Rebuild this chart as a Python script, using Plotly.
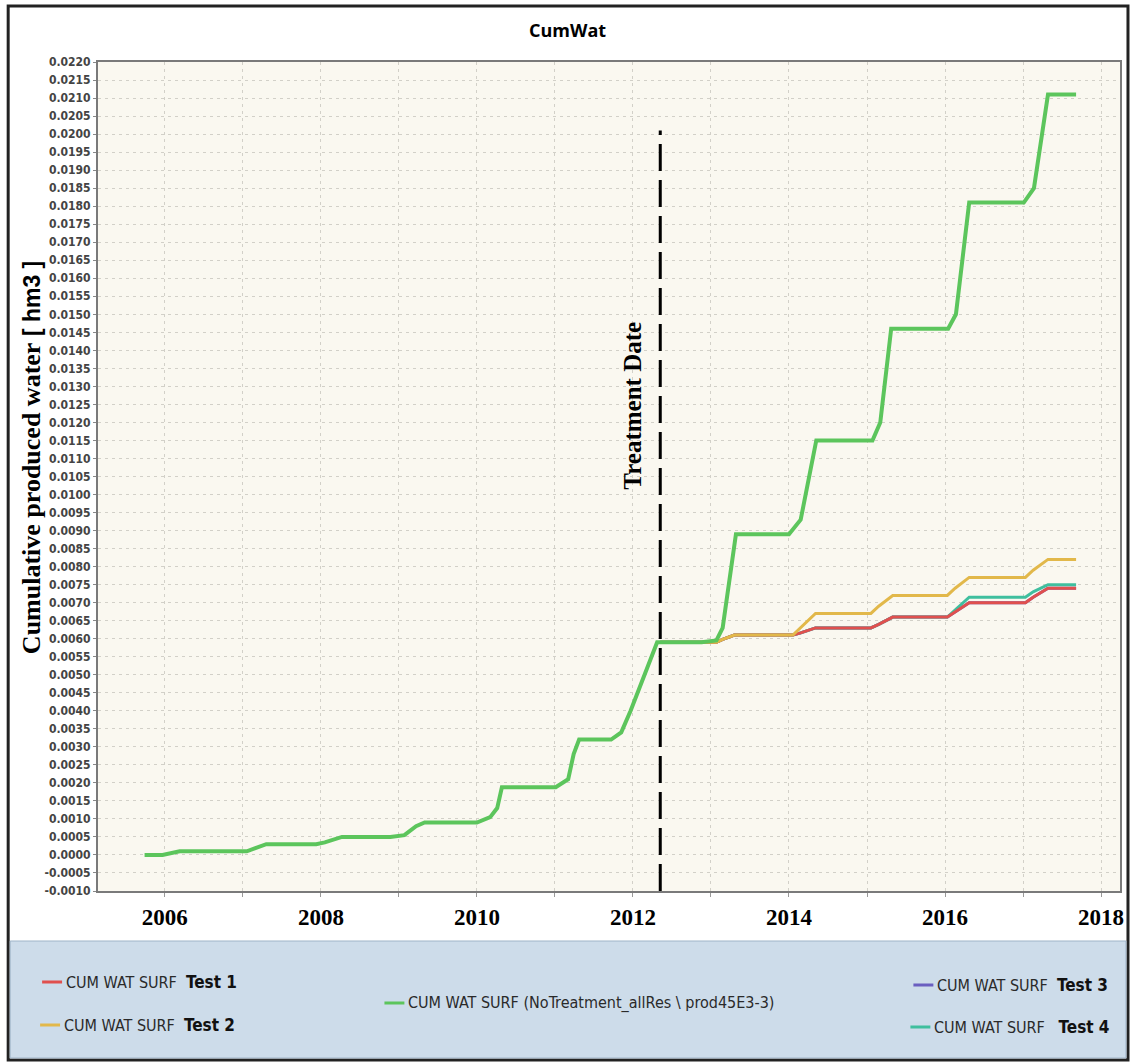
import plotly.graph_objects as go

# ---- data -----------------------------------------------------------------
# Base case (no treatment), decimal years / cumulative water [hm3]
base_years = [2005.74, 2005.97, 2006.19, 2007.05, 2007.30, 2007.94, 2008.05, 2008.20,
              2008.27, 2008.89, 2009.07, 2009.22, 2009.33, 2010.00, 2010.17, 2010.26,
              2010.32, 2011.01, 2011.17, 2011.24, 2011.31, 2011.72, 2011.85, 2011.97,
              2012.15, 2012.31, 2012.88, 2013.07, 2013.15, 2013.32, 2014.00, 2014.15,
              2014.35, 2015.07, 2015.17, 2015.31, 2016.04, 2016.14, 2016.31, 2017.01,
              2017.14, 2017.32, 2017.68]
base_water = [0.0000, 0.0000, 0.0001, 0.0001, 0.0003, 0.0003, 0.00035, 0.00045,
              0.0005, 0.0005, 0.00055, 0.0008, 0.0009, 0.0009, 0.00105, 0.0013,
              0.00188, 0.00188, 0.0021, 0.0028, 0.0032, 0.0032, 0.0034, 0.0040,
              0.0050, 0.0059, 0.0059, 0.00595, 0.0063, 0.0089, 0.0089, 0.0093,
              0.0115, 0.0115, 0.0120, 0.0146, 0.0146, 0.0150, 0.0181, 0.0181,
              0.0185, 0.0211, 0.0211]

# Treatment scenarios share one time axis
test_years = [2012.35, 2013.07, 2013.15, 2013.30, 2014.05, 2014.15, 2014.34, 2015.05,
              2015.15, 2015.33, 2016.03, 2016.13, 2016.31, 2017.03, 2017.13, 2017.32,
              2017.68]
test1 = [0.0059, 0.0059, 0.00598, 0.0061, 0.0061, 0.00616, 0.0063, 0.0063,
         0.0064, 0.0066, 0.0066, 0.00675, 0.0070, 0.0070, 0.00715, 0.0074, 0.0074]
test2 = [0.0059, 0.0059, 0.00598, 0.0061, 0.0061, 0.0063, 0.0067, 0.0067,
         0.0069, 0.0072, 0.0072, 0.0074, 0.0077, 0.0077, 0.0079, 0.0082, 0.0082]
test3 = [0.0059, 0.0059, 0.00598, 0.0061, 0.0061, 0.00616, 0.0063, 0.0063,
         0.0064, 0.0066, 0.0066, 0.00675, 0.0070, 0.0070, 0.00715, 0.0074, 0.0074]
test4 = [0.0059, 0.0059, 0.00598, 0.0061, 0.0061, 0.00616, 0.0063, 0.0063,
         0.0064, 0.0066, 0.0066, 0.0068, 0.00715, 0.00715, 0.0073, 0.0075, 0.0075]

treatment_year = 2012.35
treatment_top = 0.0201

y_ticks = [round(-0.0010 + 0.0005 * i, 4) for i in range(47)]
x_label_years = [2006, 2008, 2010, 2012, 2014, 2016, 2018]

COL_T1 = "#e0504e"
COL_T2 = "#e2b84a"
COL_T3 = "#6a5fc0"
COL_T4 = "#3fbf9e"
COL_BASE = "#5cc55c"

# ---- layout helpers (pixel -> paper) ----------------------------------------
L, R, T, B = 98, 1122, 62, 891
W, H = 1136, 1063


def px(x):
    return (x - L) / (R - L)


def py(y):
    return (B - y) / (B - T)


fig = go.Figure()

series = [
    (test3, COL_T3, 3),
    (test4, COL_T4, 3),
    (test1, COL_T1, 3),
    (test2, COL_T2, 3),
]
for vals, col, w in series:
    fig.add_trace(go.Scatter(x=test_years, y=vals, mode="lines",
                             line=dict(color=col, width=w), showlegend=False,
                             hoverinfo="x+y"))
fig.add_trace(go.Scatter(x=base_years, y=base_water, mode="lines",
                         line=dict(color=COL_BASE, width=4), showlegend=False,
                         hoverinfo="x+y"))

shapes = []
# whole-figure frame
shapes.append(dict(type="rect", xref="paper", yref="paper",
                   x0=px(8), x1=px(1130), y0=py(1060), y1=py(6),
                   line=dict(color="#222", width=3), fillcolor="rgba(0,0,0,0)",
                   layer="below"))
# legend panel
shapes.append(dict(type="rect", xref="paper", yref="paper",
                   x0=px(10), x1=px(1128), y0=py(1058), y1=py(941),
                   line=dict(color="#9fb4c8", width=1), fillcolor="#cddcea",
                   layer="below"))
# treatment marker
shapes.append(dict(type="line", xref="x", yref="y",
                   x0=treatment_year, x1=treatment_year, y0=-0.0010, y1=treatment_top,
                   line=dict(color="black", width=3, dash="27px,9px")))

annotations = []
annotations.append(dict(text="<b>CumWat</b>", xref="paper", yref="paper",
                        x=px(568), y=py(30), xanchor="center", yanchor="middle",
                        showarrow=False,
                        font=dict(family="Open Sans, Liberation Sans, sans-serif",
                                  size=18, color="black")))
annotations.append(dict(
    text="<b>Cumulative produced water</b> "
         "<span style='font-family:Liberation Sans, sans-serif;font-size:23px'><b>[ hm3 ]</b></span>",
    xref="paper", yref="paper", x=px(32), y=py(458), xanchor="center", yanchor="middle",
    textangle=-90, showarrow=False,
    font=dict(family="Liberation Serif, serif", size=26, color="black")))
annotations.append(dict(text="<b>Treatment Date</b>", xref="x", yref="y",
                        x=2011.99, y=0.01247, xanchor="center", yanchor="middle",
                        textangle=-90, showarrow=False,
                        font=dict(family="Liberation Serif, serif", size=25, color="black")))

legend_items = [
    (COL_T1, 42, 982, "CUM WAT SURF  <b>Test 1</b>"),
    (COL_T2, 40, 1025, "CUM WAT SURF  <b>Test 2</b>"),
    (COL_BASE, 385, 1003, "CUM WAT SURF (NoTreatment_allRes \\ prod45E3-3)"),
    (COL_T3, 915, 985, "CUM WAT SURF  <b>Test 3</b>"),
    (COL_T4, 912, 1027, "CUM WAT SURF   <b>Test 4</b>"),
]
for col, x0, y0, label in legend_items:
    shapes.append(dict(type="line", xref="paper", yref="paper",
                       x0=px(x0), x1=px(x0 + 20), y0=py(y0), y1=py(y0),
                       line=dict(color=col, width=3)))
    label = label.replace("<b>", "<span style='font-size:17px;color:#111'><b>").replace(
        "</b>", "</b></span>")
    annotations.append(dict(text=label, xref="paper", yref="paper",
                            x=px(x0 + 22), y=py(y0), xanchor="left", yanchor="middle",
                            showarrow=False,
                            font=dict(family="Liberation Sans Narrow, DejaVu Sans Condensed, sans-serif",
                                      size=16, color="#2a2a2a")))

fig.update_layout(
    width=W, height=H,
    margin=dict(l=L, r=W - R, t=T, b=H - B),
    paper_bgcolor="white",
    plot_bgcolor="#faf8f0",
    shapes=shapes,
    annotations=annotations,
    showlegend=False,
)

fig.update_xaxes(
    range=[2005.143, 2018.243],
    tickmode="array",
    tickvals=list(range(2006, 2019)),
    ticktext=[str(y) if y in x_label_years else "" for y in range(2006, 2019)],
    ticks="outside", ticklen=4, tickcolor="#999",
    tickfont=dict(family="Liberation Serif, serif", size=23, color="black", weight="bold"),
    showgrid=True, gridcolor="#d2d0c8", griddash="3px,4px", gridwidth=1,
    showline=True, linecolor="#7a7a7a", linewidth=2, mirror=True,
    zeroline=False,
)
fig.update_yaxes(
    range=[-0.0010, 0.0220],
    tickmode="array",
    tickvals=y_ticks,
    ticktext=[f"{v:.4f}" for v in y_ticks],
    ticks="outside", ticklen=3, tickcolor="#888",
    tickfont=dict(family="Liberation Sans Narrow, DejaVu Sans Condensed, sans-serif",
                  size=12, color="#444", weight="bold"),
    showgrid=True, gridcolor="#d2d0c8", griddash="3px,4px", gridwidth=1,
    showline=True, linecolor="#7a7a7a", linewidth=2, mirror=True,
    zeroline=False,
)

fig.write_html("out.html")
